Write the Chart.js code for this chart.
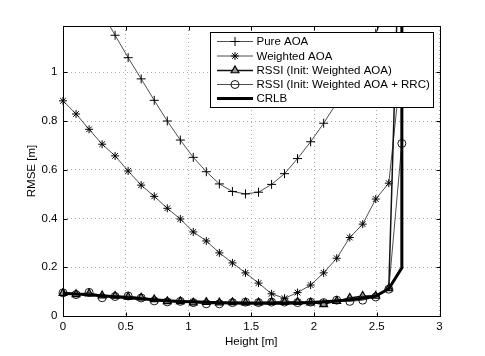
<!DOCTYPE html>
<html>
<head>
<meta charset="utf-8">
<script src="https://cdn.jsdelivr.net/npm/chart.js@4/dist/chart.umd.min.js"></script>
<style>
  html, body { margin: 0; padding: 0; background: #fff; }
</style>
</head>
<body>
<canvas id="rmseChart" width="485" height="356"></canvas>
<script>
// --- data ---
const heights = [0, 0.104, 0.208, 0.312, 0.415, 0.519, 0.623, 0.727, 0.831, 0.935,
                 1.038, 1.142, 1.246, 1.35, 1.454, 1.558, 1.662, 1.765, 1.869, 1.973,
                 2.077, 2.181, 2.285, 2.388, 2.492, 2.596, 2.7];

const pureAoa = [1.54, 1.44, 1.34, 1.245, 1.152, 1.06, 0.973, 0.885, 0.8, 0.722,
                 0.651, 0.592, 0.542, 0.511, 0.501, 0.508, 0.54, 0.584, 0.646, 0.715,
                 0.791, 0.875, 0.965, 1.06, 1.16, 1.27, 1.38];

const weightedAoa = [0.883, 0.829, 0.766, 0.705, 0.657, 0.595, 0.537, 0.491, 0.442, 0.398,
                     0.345, 0.308, 0.259, 0.218, 0.177, 0.135, 0.091, 0.073, 0.096, 0.127,
                     0.177, 0.237, 0.322, 0.377, 0.48, 0.545, 1.05];

const rssiWeighted = [0.094, 0.089, 0.092, 0.084, 0.082, 0.078, 0.075, 0.068, 0.06, 0.06,
                      0.055, 0.057, 0.055, 0.056, 0.055, 0.055, 0.057, 0.057, 0.057, 0.055,
                      0.048, 0.061, 0.074, 0.082, 0.082, 0.113, 1.9];

const rssiRrc = [0.095, 0.088, 0.097, 0.075, 0.08, 0.082, 0.074, 0.062, 0.058, 0.06,
                 0.055, 0.05, 0.05, 0.055, 0.057, 0.055, 0.057, 0.057, 0.055, 0.057,
                 0.055, 0.065, 0.06, 0.065, 0.078, 0.11, 0.708];

// CRLB has one extra sample at the right edge where it blows up
const crlbHeights = heights.concat([2.7]);
const crlb = [0.093, 0.09, 0.087, 0.083, 0.079, 0.075, 0.071, 0.067, 0.063, 0.06,
              0.058, 0.056, 0.054, 0.053, 0.052, 0.052, 0.052, 0.052, 0.053, 0.055,
              0.058, 0.062, 0.067, 0.073, 0.082, 0.112, 0.198, 3.0];

const xTicksStep = 0.5;
const yTicksStep = 0.2;

const seriesLabels = ['Pure AOA', 'Weighted AOA', 'RSSI (Init: Weighted AOA)',
                      'RSSI (Init: Weighted AOA + RRC)', 'CRLB'];

const FONT = "'Liberation Sans', Arial, Helvetica, sans-serif";
const toXY = (xs, ys) => xs.map((x, i) => ({ x: x, y: ys[i] }));
// matlab style tick text: 0, 0.5, 1, 1.5 ...
const fmtTick = v => String(+Number(v).toFixed(1));

const clipBox = { left: 8, top: 0, right: 8, bottom: 8 };

// matlab-like box with inward ticks + legend drawn inside the axes
const matlabAxes = {
    id: 'matlabAxes',
    afterDatasetsDraw(chart) {
        const ctx = chart.ctx;
        const a = chart.chartArea;
        const xs = chart.scales.x, ys = chart.scales.y;
        ctx.save();
        ctx.setLineDash([]);
        ctx.strokeStyle = '#000';
        ctx.lineWidth = 1;
        const L = Math.round(a.left) + 0.5, R = Math.round(a.right) + 0.5;
        const T = Math.round(a.top) + 0.5, B = Math.round(a.bottom) + 0.5;
        ctx.strokeRect(L, T, R - L, B - T);
        const tk = 4;
        ctx.beginPath();
        xs.ticks.forEach(t => {
            const px = Math.round(xs.getPixelForValue(t.value)) + 0.5;
            ctx.moveTo(px, B); ctx.lineTo(px, B - tk);
            ctx.moveTo(px, T); ctx.lineTo(px, T + tk);
        });
        ys.ticks.forEach(t => {
            const py = Math.round(ys.getPixelForValue(t.value)) + 0.5;
            ctx.moveTo(L, py); ctx.lineTo(L + tk, py);
            ctx.moveTo(R, py); ctx.lineTo(R - tk, py);
        });
        ctx.stroke();

        // legend box
        const bx = 210.5, by = 32.5, bw = 223, bh = 75;
        ctx.fillStyle = '#fff';
        ctx.fillRect(bx, by, bw, bh);
        ctx.strokeRect(bx, by, bw, bh);
        const rowY = [41.5, 56, 70.5, 84.5, 98.5];
        ctx.font = '11.5px ' + FONT;
        ctx.textBaseline = 'middle';
        ctx.textAlign = 'left';
        chart.data.datasets.forEach((ds, i) => {
            const y = rowY[i];
            ctx.strokeStyle = ds.borderColor;
            ctx.lineWidth = ds.borderWidth;
            ctx.beginPath();
            ctx.moveTo(217, y); ctx.lineTo(253, y);
            ctx.stroke();
            if (ds.pointRadius > 0 && Chart.helpers && Chart.helpers.drawPoint) {
                ctx.strokeStyle = ds.pointBorderColor;
                ctx.fillStyle = ds.pointBackgroundColor;
                ctx.lineWidth = ds.pointBorderWidth;
                Chart.helpers.drawPoint(ctx, {
                    pointStyle: ds.pointStyle, radius: ds.pointRadius,
                    rotation: 0, borderWidth: ds.pointBorderWidth
                }, 235, y);
            }
            ctx.fillStyle = '#000';
            ctx.fillText(seriesLabels[i], 256.5, y + 0.5);
        });
        ctx.restore();
    }
};

new Chart(document.getElementById('rmseChart'), {
    type: 'line',
    data: {
        datasets: [
            {
                label: seriesLabels[0], data: toXY(heights, pureAoa),
                borderColor: '#222', borderWidth: 0.8,
                pointStyle: 'cross', pointRadius: 4.5, pointBorderColor: '#000',
                pointBackgroundColor: '#000', pointBorderWidth: 1,
                order: 5, clip: clipBox
            },
            {
                label: seriesLabels[1], data: toXY(heights, weightedAoa),
                borderColor: '#222', borderWidth: 0.8,
                pointStyle: 'star', pointRadius: 4, pointBorderColor: '#000',
                pointBackgroundColor: '#000', pointBorderWidth: 1,
                order: 4, clip: clipBox
            },
            {
                label: seriesLabels[2], data: toXY(heights, rssiWeighted),
                borderColor: '#111', borderWidth: 1.5,
                pointStyle: 'triangle', pointRadius: 4.5, pointBorderColor: '#000',
                pointBackgroundColor: '#999', pointBorderWidth: 1.2,
                order: 3, clip: clipBox
            },
            {
                label: seriesLabels[3], data: toXY(heights, rssiRrc),
                borderColor: '#222', borderWidth: 0.8,
                pointStyle: 'circle', pointRadius: 4, pointBorderColor: '#000',
                pointBackgroundColor: 'rgba(0,0,0,0)', pointBorderWidth: 0.9,
                order: 2, clip: clipBox
            },
            {
                label: seriesLabels[4], data: toXY(crlbHeights, crlb),
                borderColor: '#000', borderWidth: 3,
                pointRadius: 0, pointBorderColor: '#000',
                pointBackgroundColor: '#000', pointBorderWidth: 0,
                order: 1, clip: clipBox
            }
        ]
    },
    options: {
        responsive: false,
        animation: false,
        events: [],
        layout: { padding: { left: 0, top: 26, right: 45.5, bottom: 0 } },
        elements: { line: { tension: 0, fill: false } },
        plugins: {
            legend: { display: false },
            tooltip: { enabled: false }
        },
        scales: {
            x: {
                type: 'linear', min: 0, max: 3,
                afterFit: s => { s.height = 40; },
                ticks: {
                    stepSize: xTicksStep, color: '#000', padding: 4,
                    font: { family: FONT, size: 11.5 }, maxRotation: 0,
                    callback: fmtTick
                },
                grid: { color: '#aaa', lineWidth: 1, drawTicks: false },
                border: { display: false, dash: [1, 3] },
                title: {
                    display: true, text: 'Height [m]', color: '#000',
                    font: { family: FONT, size: 11.5 }, padding: { top: 0, bottom: 7 }
                }
            },
            y: {
                type: 'linear', min: 0, max: 1.19,
                afterFit: s => { s.width = 63; },
                ticks: {
                    stepSize: yTicksStep, color: '#000', padding: 5.5,
                    includeBounds: false,
                    font: { family: FONT, size: 11.5 },
                    callback: fmtTick
                },
                grid: { color: '#aaa', lineWidth: 1, drawTicks: false },
                border: { display: false, dash: [1, 3] },
                title: {
                    display: true, text: 'RMSE [m]', color: '#000',
                    font: { family: FONT, size: 11.5 }, padding: { top: 25, bottom: 0 }
                }
            }
        }
    },
    plugins: [matlabAxes]
});
</script>
</body>
</html>
